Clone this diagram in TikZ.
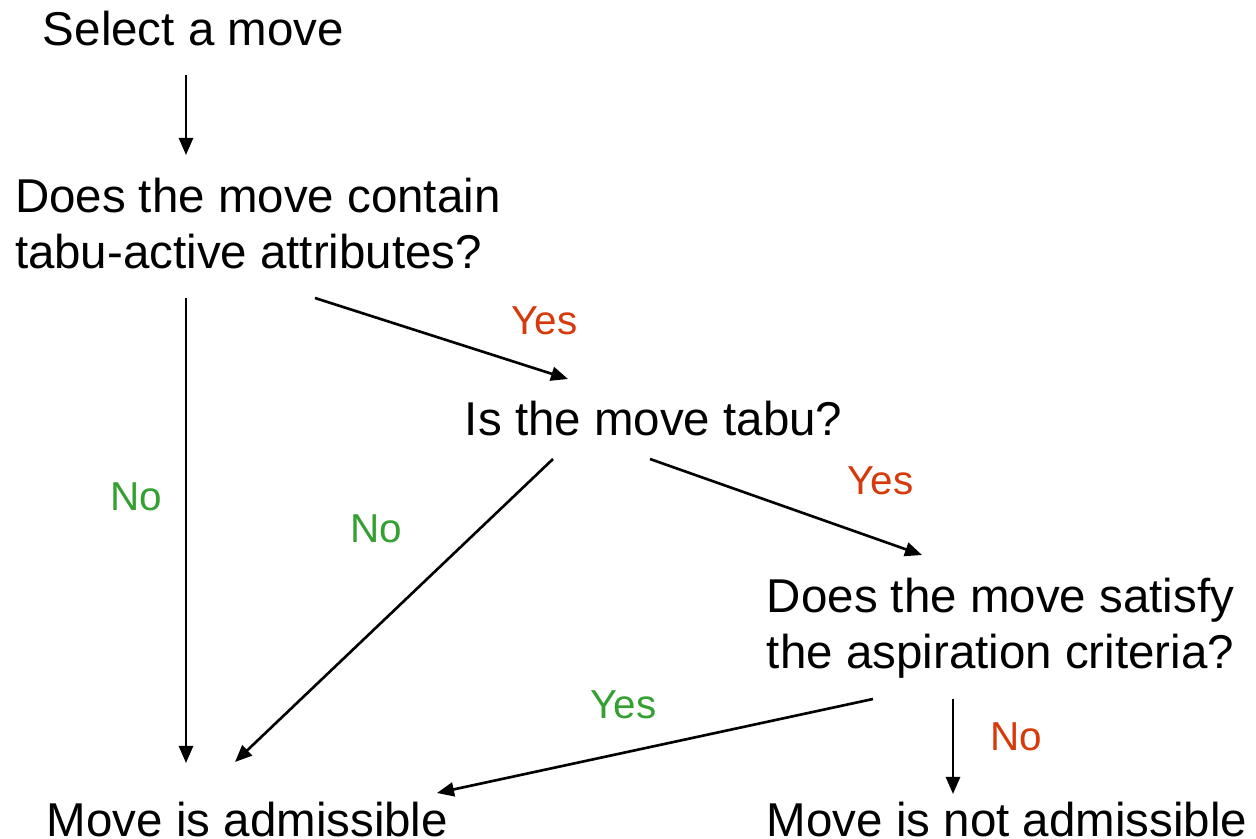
\documentclass[tikz,border=0pt]{standalone}
\usepackage{fontspec}
\setmainfont{Liberation Sans}
\usetikzlibrary{arrows.meta}
\definecolor{yesred}{RGB}{214,58,10}
\definecolor{nogreen}{RGB}{52,160,50}
\tikzset{
  txt/.style={anchor=base west, inner sep=0pt, outer sep=0pt, align=left,
    font=\fontsize{13.5}{15.9}\selectfont},
  lbl/.style={anchor=base west, inner sep=0pt, font=\fontsize{11.5}{13}\selectfont},
  lyes/.style={lbl, text=yesred},
  lno/.style={lbl, text=nogreen},
  arr/.style={line width=0.75pt, -{Triangle[length=0.17cm,width=0.14cm]}}
}
\begin{document}
\begin{tikzpicture}[x=0.01cm,y=-0.01cm]
\useasboundingbox (0,0) rectangle (1256,839);
\node[txt] (select) at (43,45) {Select a move};
\node[txt] (contain) at (15,268) {Does the move contain\\tabu-active attributes?};
\node[txt] (tabu) at (465,435) {Is the move tabu?};
\node[txt] (asp) at (767,668) {Does the move satisfy\\the aspiration criteria?};
\node[txt] (adm) at (47,836) {Move is admissible};
\node[txt] (nadm) at (767,836) {Move is not admissible};

\coordinate (s1) at (186,75);   \coordinate (e1) at (186,155);
\coordinate (s2) at (315,298);  \coordinate (e2) at (568,379);
\coordinate (s3) at (186,298);  \coordinate (e3) at (186,763);
\coordinate (s4) at (553,459);  \coordinate (e4) at (235,762);
\coordinate (s5) at (650,459);  \coordinate (e5) at (922,555);
\coordinate (s6) at (873,699);  \coordinate (e6) at (437,793);
\coordinate (s7) at (953,699);  \coordinate (e7) at (953,794);

\draw[arr] (s1) -- (e1);
\draw[arr] (s2) -- (e2);
\draw[arr] (s3) -- (e3);
\draw[arr] (s4) -- (e4);
\draw[arr] (s5) -- (e5);
\draw[arr] (s6) -- (e6);
\draw[arr] (s7) -- (e7);

\node[lyes] (y1) at (511,334) {Yes};
\node[lno]  (n1) at (110,510) {No};
\node[lno]  (n2) at (350,542) {No};
\node[lyes] (y2) at (847,494) {Yes};
\node[lno]  (y3) at (590,718) {Yes};
\node[lyes] (n3) at (990,750) {No};
\end{tikzpicture}
\end{document}
